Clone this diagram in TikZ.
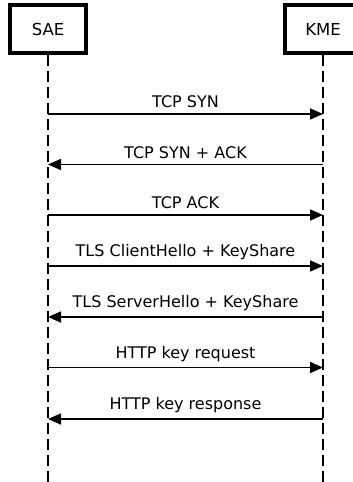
\documentclass[tikz,border=0pt]{standalone}
\usepackage{fontspec}
\setmainfont{DejaVu Sans}
\usetikzlibrary{arrows.meta}
\begin{document}
\begin{tikzpicture}[x=1pt,y=-1pt,
  actor/.style={draw,line width=3.2pt,minimum width=76pt,minimum height=48pt,inner sep=0pt,font=\fontsize{16.5}{19}\selectfont},
  lifeline/.style={line width=1.6pt,dash pattern=on 11pt off 5pt},
  msg/.style={line width=1.6pt,-{Triangle[length=13pt,width=11pt]}},
  lbl/.style={font=\fontsize{16}{19}\selectfont,inner sep=0pt}]
  \clip (0,0) rectangle (353,482);
  \fill[white] (0,0) rectangle (353,482);
  % participants
  \node[actor] (sae) at (48,29) {SAE};
  \node[actor] (kme) at (323,29) {KME};
  \coordinate (saeEnd) at (48,482);
  \coordinate (kmeEnd) at (323,482);
  \draw[lifeline] (sae.south) -- (saeEnd);
  \draw[lifeline] (kme.south) -- (kmeEnd);
  % message anchors on the lifelines
  \foreach \i/\y in {1/114,2/164.5,3/215,4/266,5/317,6/367.5,7/419}{
    \coordinate (s\i) at (48,\y);
    \coordinate (k\i) at (323,\y);
  }
  % messages
  \draw[msg] (s1) -- node[lbl,above=5pt] {TCP SYN} (k1);
  \draw[msg] (k2) -- node[lbl,above=5pt] {TCP SYN + ACK} (s2);
  \draw[msg] (s3) -- node[lbl,above=5pt] {TCP ACK} (k3);
  \draw[msg] (s4) -- node[lbl,above=5pt] {TLS ClientHello + KeyShare} (k4);
  \draw[msg] (k5) -- node[lbl,above=5pt] {TLS ServerHello + KeyShare} (s5);
  \draw[msg] (s6) -- node[lbl,above=5pt] {HTTP key request} (k6);
  \draw[msg] (k7) -- node[lbl,above=5pt] {HTTP key response} (s7);
\end{tikzpicture}
\end{document}
